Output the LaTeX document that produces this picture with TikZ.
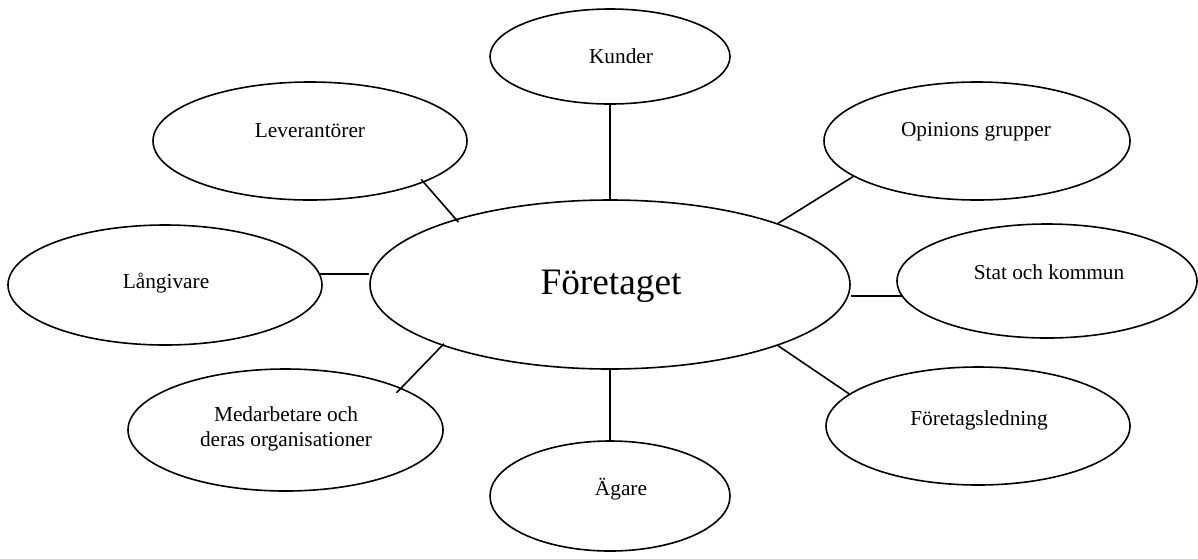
\documentclass[tikz,border=0pt]{standalone}
\usepackage{fontspec}
\setmainfont{Liberation Serif}
\usetikzlibrary{shapes.geometric}
\tikzset{
  ell/.style 2 args={draw, ellipse, inner sep=0pt, line width=1.2pt,
    minimum width=#1*0.75pt, minimum height=#2*0.75pt},
  lbl/.style={anchor=base, inner sep=0pt, font=\fontsize{16}{18.75}\selectfont},
  big/.style={anchor=base, inner sep=0pt, font=\fontsize{28}{32}\selectfont},
  link/.style={line width=1.2pt},
  over/.style={shorten <=-3pt, shorten >=-3pt}
}
\begin{document}
\begin{tikzpicture}[x=0.75pt,y=-0.75pt]
\useasboundingbox (0,0) rectangle (1198,558);
% ellipses
\node[ell={480}{169}] (foretaget) at (610,284.5) {};
\node[ell={240}{95}]  (kunder)    at (610,56.5) {};
\node[ell={314}{118}] (lev)       at (310,141) {};
\node[ell={306}{118}] (opin)      at (977,141) {};
\node[ell={314}{120}] (lang)      at (165,285) {};
\node[ell={300}{114}] (stat)      at (1047,281) {};
\node[ell={315}{122}] (med)       at (285.5,430) {};
\node[ell={304}{118}] (ledn)      at (978,426) {};
\node[ell={240}{110}] (agare)     at (610,496) {};
% texts
\node[big] (foretaget-t) at (611,294) {Företaget};
\node[lbl] (kunder-t) at (621,63) {Kunder};
\node[lbl] (lev-t) at (310,137) {Leverantörer};
\node[lbl] (opin-t) at (976,136) {Opinions grupper};
\node[lbl] (lang-t) at (166,288) {Långivare};
\node[lbl] (stat-t) at (1049,279) {Stat och kommun};
\node[lbl, anchor=center, align=center] (med-t) at (286,429) {Medarbetare och\\deras organisationer};
\node[lbl] (ledn-t) at (979,425) {Företagsledning};
\node[lbl] (agare-t) at (621,495) {Ägare};
% connectors
\draw[link] (kunder.south) -- (foretaget.north);
\draw[link, over] (lev.-20) -- (foretaget.157);
\draw[link] (opin.196) -- (foretaget.20);
\draw[link] (lang.4) -- (lang.4 -| foretaget.west);
\draw[link] (stat.186) -- (stat.186 -| foretaget.east);
\draw[link, shorten <=-2pt, shorten >=-5pt] (foretaget.200) -- (med.20);
\draw[link] (foretaget.-20) -- (ledn.166);
\draw[link] (foretaget.south) -- (agare.north);
\end{tikzpicture}
\end{document}
